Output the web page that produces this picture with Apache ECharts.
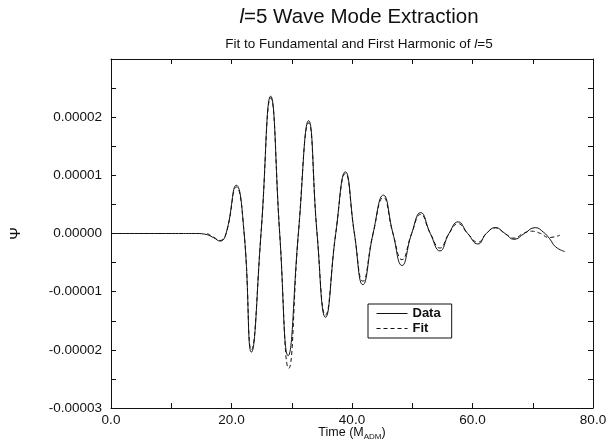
<!DOCTYPE html>
<html>
<head>
<meta charset="utf-8">
<script src="https://cdn.jsdelivr.net/npm/echarts@6/dist/echarts.min.js"></script>
<style>html,body{margin:0;padding:0;background:#fff}#c{width:608px;height:444px}</style>
</head>
<body>
<div id="c"></div>
<script>
// Data (time in M_ADM, Psi values)
const dataTimes = [0, 10, 14, 15.5, 17, 18.1, 19.1, 20.8, 22.1, 23.3, 24.9, 26.5, 28.0, 29.4, 31.1, 32.8, 34.2, 35.6, 37.3, 38.9, 40.4, 41.8, 43.5, 45.2, 46.8, 48.3, 49.9, 51.4, 53.0, 54.6, 56.1, 57.6, 59.2, 60.9, 62.3, 63.8, 65.4, 66.9, 68.6, 70.4, 71.8, 72.8, 73.8, 75.3];
const dataValues = [0, 0, 0, -0.01e-5, -0.07e-5, -0.13e-5, 0, 0.83e-5, 0, -2.04e-5, 0, 2.36e-5, 0, -2.1e-5, 0, 1.94e-5, 0, -1.44e-5, 0, 1.06e-5, 0, -0.88e-5, 0, 0.66e-5, 0, -0.55e-5, 0, 0.36e-5, 0, -0.3e-5, 0, 0.2e-5, 0, -0.18e-5, 0, 0.1e-5, 0, -0.1e-5, 0, 0.1e-5, 0.02e-5, -0.09e-5, -0.23e-5, -0.31e-5];
const fitTimes = [16, 17, 18.1, 19.1, 20.8, 22.1, 23.3, 24.9, 26.5, 28.0, 29.5, 31.1, 32.8, 34.2, 35.6, 37.3, 38.9, 40.4, 41.8, 43.5, 45.2, 46.8, 48.3, 49.9, 51.4, 53.0, 54.6, 56.1, 57.6, 59.2, 60.9, 62.3, 63.8, 65.4, 66.9, 68.4, 69.8, 71.3, 72.7, 74.5];
const fitValues = [0, -0.06e-5, -0.12e-5, 0, 0.8e-5, 0, -2.0e-5, 0, 2.33e-5, 0, -2.32e-5, 0, 1.9e-5, 0, -1.4e-5, 0, 1.03e-5, 0, -0.82e-5, 0, 0.62e-5, 0, -0.45e-5, 0, 0.33e-5, 0, -0.25e-5, 0, 0.17e-5, 0, -0.15e-5, 0, 0.1e-5, 0, -0.08e-5, 0, 0.04e-5, 0, -0.07e-5, -0.03e-5];
const xTicks = [0, 20, 40, 60, 80];
const yTicks = [-0.00003, -0.00002, -0.00001, 0, 0.00001, 0.00002];
const seriesNames = ['Data', 'Fit'];

const font = '"Liberation Sans", Arial, Helvetica, sans-serif';
const zip = (a, b) => a.map((t, i) => [t, b[i]]);
const fmtY = v => (Math.abs(v) < 1e-12 ? 0 : v).toFixed(5);

const chart = echarts.init(document.getElementById('c'), null, {renderer: 'canvas'});
const axisCommon = {
  axisLine: {show: true, onZero: false, lineStyle: {color: '#111', width: 1}},
  axisTick: {show: true, inside: true, length: 5, lineStyle: {color: '#111'}},
  minorTick: {show: true, splitNumber: 2, length: 5, lineStyle: {color: '#111'}},
  splitLine: {show: false}
};
chart.setOption({
  backgroundColor: '#fff',
  animation: false,
  title: [
    {text: '{i|l}=5 Wave Mode Extraction', left: 354, top: 2, textAlign: 'center',
     textStyle: {fontFamily: font, fontSize: 20.5, fontWeight: 'normal', color: '#111',
       rich: {i: {fontFamily: font, fontSize: 20.5, fontStyle: 'italic', color: '#111'}}}},
    {text: 'Fit to Fundamental and First Harmonic of {i|l}=5', left: 354, top: 32, textAlign: 'center',
     textStyle: {fontFamily: font, fontSize: 13.5, fontWeight: 'normal', color: '#111',
       rich: {i: {fontFamily: font, fontSize: 13.5, fontStyle: 'italic', color: '#111'}}}}
  ],
  grid: {left: 111, right: 15, top: 59, bottom: 36, containLabel: false, outerBoundsMode: 'none'},
  legend: {
    data: seriesNames, orient: 'vertical', left: 368, top: 304,
    backgroundColor: '#fff', borderColor: '#111', borderWidth: 1, borderRadius: 0,
    padding: [3, 11, 3, 8], itemGap: 2, itemWidth: 31, itemHeight: 12,
    itemStyle: {opacity: 0},
    lineStyle: {width: 1},
    textStyle: {fontFamily: font, fontSize: 13, fontWeight: 'bold', color: '#111'}
  },
  xAxis: [
    Object.assign({type: 'value', min: xTicks[0], max: xTicks[xTicks.length - 1], interval: 20, position: 'bottom',
      name: 'Time (M{s|ADM})', nameLocation: 'middle', nameGap: 17, nameMoveOverlap: false,
      nameTextStyle: {fontFamily: font, fontSize: 12.5, color: '#111',
        rich: {s: {fontFamily: font, fontSize: 8, color: '#111', verticalAlign: 'bottom', padding: [8, 0, 0, 0]}}},
      axisLabel: {fontFamily: font, fontSize: 13.5, color: '#111', margin: 5, formatter: v => v.toFixed(1)}}, axisCommon),
    Object.assign({type: 'value', min: xTicks[0], max: xTicks[xTicks.length - 1], interval: 20, position: 'top',
      axisLabel: {show: false}}, axisCommon)
  ],
  yAxis: [
    Object.assign({type: 'value', min: -0.00003, max: 0.00003, interval: 0.00001, position: 'left',
      name: 'Ψ', nameLocation: 'middle', nameGap: 88, nameRotate: 90, nameMoveOverlap: false,
      nameTextStyle: {fontFamily: font, fontSize: 15, color: '#111'},
      axisLabel: {fontFamily: font, fontSize: 13.5, color: '#111', margin: 9,
        formatter: v => (v > 0.000025 ? '' : fmtY(v))}}, axisCommon),
    Object.assign({type: 'value', min: -0.00003, max: 0.00003, interval: 0.00001, position: 'right',
      axisLabel: {show: false}}, axisCommon)
  ],
  series: [
    {name: seriesNames[0], type: 'line', data: zip(dataTimes, dataValues), smooth: 0.5, symbol: 'none',
     lineStyle: {color: '#111', width: 1, type: 'solid'}, itemStyle: {color: '#111'}},
    {name: seriesNames[1], type: 'line', data: zip(fitTimes, fitValues), smooth: 0.5, symbol: 'none',
     lineStyle: {color: '#111', width: 1, type: [4, 3]}, itemStyle: {color: '#111'}}
  ]
});
</script>
</body>
</html>
